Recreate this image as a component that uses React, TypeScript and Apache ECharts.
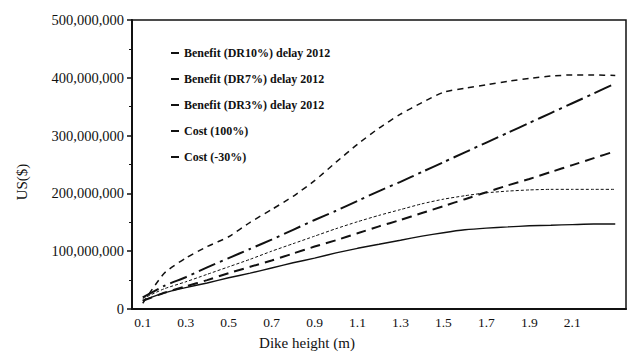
import React, { useEffect, useRef } from "react";
import * as echarts from "echarts";

const heights = ["0.1","0.2","0.3","0.4","0.5","0.6","0.7","0.8","0.9","1.0","1.1","1.2","1.3","1.4","1.5","1.6","1.7","1.8","1.9","2.0","2.1","2.2","2.3"];

// values in US$ millions
const benefitDR10 = [15, 28, 37, 45, 54, 62, 71, 80, 88, 97, 105, 112, 119, 126, 132, 137, 140, 142, 144, 145, 146, 147, 147];
const benefitDR7 = [18, 35, 47, 60, 73, 86, 100, 113, 126, 139, 151, 162, 172, 182, 190, 196, 201, 204, 206, 207, 207, 207, 207];
const benefitDR3 = [10, 62, 88, 108, 125, 150, 172, 195, 222, 254, 285, 313, 337, 357, 375, 382, 388, 394, 399, 403, 405, 405, 404];
const cost100 = [20, 40, 55, 72, 88, 104, 120, 137, 154, 170, 187, 204, 220, 237, 254, 271, 288, 305, 322, 339, 356, 373, 390];
const costMinus30 = [14, 28, 39, 50, 62, 73, 84, 96, 108, 119, 131, 143, 154, 166, 178, 190, 202, 214, 225, 237, 249, 261, 273];

const seriesNames = [
  "Benefit (DR10%) delay 2012",
  "Benefit (DR7%) delay 2012",
  "Benefit (DR3%) delay 2012",
  "Cost (100%)",
  "Cost (-30%)",
];

const yTicks = [0, 100000000, 200000000, 300000000, 400000000, 500000000];

const FONT = "Liberation Serif";
const INK = "#111";

export default function App() {
  const ref = useRef<HTMLDivElement>(null);
  useEffect(() => {
    if (!ref.current) return;
    const chart = echarts.init(ref.current, null, { renderer: "svg" });
    const toUSD = (a: number[]) => a.map((v) => v * 1e6);
    const styles = [
      { type: "solid", width: 1.4 },
      { type: [3, 2], width: 1 },
      { type: [6, 5], width: 1.5 },
      { type: [18, 5, 3, 5], width: 2 },
      { type: [10, 6], width: 2 },
    ];
    const datasets = [benefitDR10, benefitDR7, benefitDR3, cost100, costMinus30];
    chart.setOption({
      animation: false,
      backgroundColor: "#fff",
      grid: {
        left: 132,
        right: 1,
        top: 20,
        bottom: 54,
        show: true,
        borderColor: INK,
        borderWidth: 1.5,
        backgroundColor: "transparent",
      },
      legend: {
        orient: "vertical",
        left: 166,
        top: 41,
        itemWidth: 8,
        itemHeight: 2,
        itemGap: 12,
        data: seriesNames.map((n) => ({
          name: n,
          icon: "rect",
          itemStyle: { color: INK },
        })),
        textStyle: {
          fontFamily: FONT,
          fontSize: 12,
          fontWeight: "bold",
          color: INK,
          lineHeight: 14,
        },
      },
      xAxis: {
        type: "category",
        data: heights,
        boundaryGap: true,
        axisLine: { lineStyle: { color: INK, width: 2 } },
        axisTick: { alignWithLabel: true, interval: 0, length: 5, lineStyle: { color: INK, width: 1.5 } },
        axisLabel: {
          interval: 1,
          margin: 6,
          fontFamily: FONT,
          fontSize: 13.5,
          color: INK,
          formatter: (v: string) => (v === "2.3" ? "" : v),
        },
        splitLine: { show: false },
      },
      yAxis: {
        type: "value",
        min: yTicks[0],
        max: yTicks[yTicks.length - 1],
        interval: 100000000,
        axisLine: { show: true, lineStyle: { color: INK, width: 2 } },
        axisTick: { show: true, length: 5, lineStyle: { color: INK, width: 1.5 } },
        minorTick: { show: true, splitNumber: 2, length: 3, lineStyle: { color: INK, width: 1 } },
        axisLabel: {
          margin: 8,
          fontFamily: FONT,
          fontSize: 14.5,
          color: INK,
          formatter: (v: number) => v.toLocaleString("en-US"),
        },
        splitLine: { show: false },
      },
      series: datasets.map((d, i) => ({
        name: seriesNames[i],
        type: "line",
        data: toUSD(d),
        symbol: "none",
        smooth: 0.2,
        lineStyle: { color: INK, width: styles[i].width, type: styles[i].type as any },
        itemStyle: { color: INK },
      })),
      graphic: [
        {
          type: "text",
          x: 22,
          y: 182,
          rotation: Math.PI / 2,
          style: {
            text: "US($)",
            fontFamily: FONT,
            fontSize: 15,
            fill: INK,
            align: "center",
            verticalAlign: "middle",
          },
        },
        {
          type: "text",
          x: 307,
          y: 343,
          style: {
            text: "Dike height (m)",
            fontFamily: FONT,
            fontSize: 15,
            fill: INK,
            align: "center",
            verticalAlign: "middle",
          },
        },
      ],
    });
    return () => chart.dispose();
  }, []);
  return <div ref={ref} style={{ width: 627, height: 363, position: "absolute", left: 0, top: 0 }} />;
}
